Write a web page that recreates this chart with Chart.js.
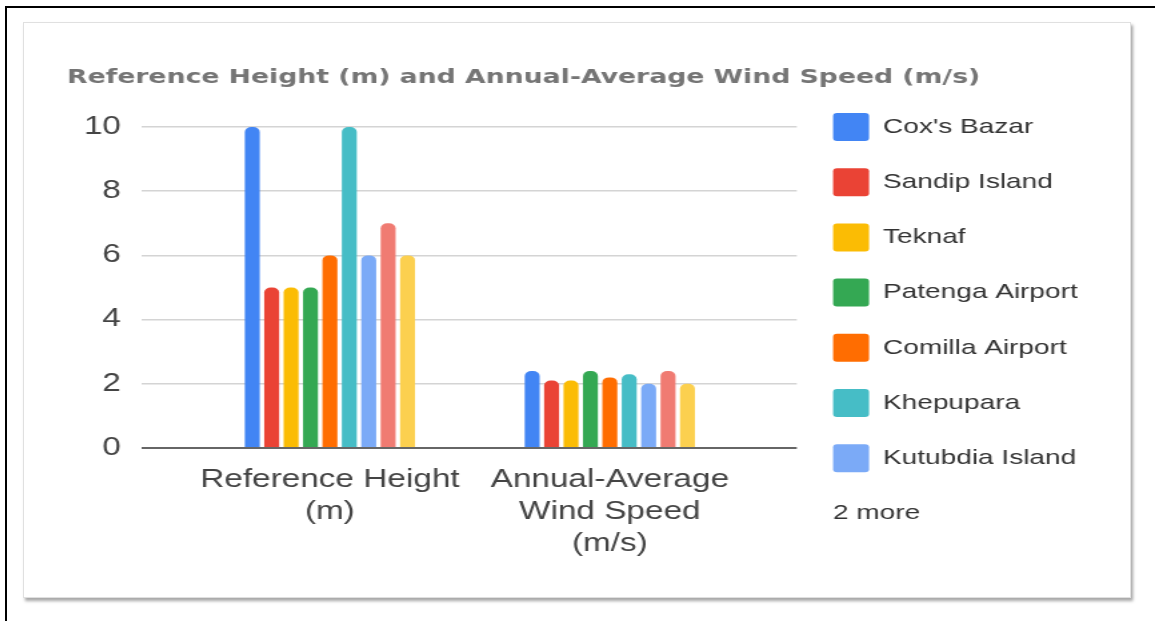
<!DOCTYPE html>
<html>
<head>
<meta charset="utf-8">
<title>Reference Height and Annual-Average Wind Speed</title>
<script src="https://cdn.jsdelivr.net/npm/chart.js"></script>
<style>
  html, body { margin: 0; padding: 0; background: #fff; }
  body { width: 1155px; height: 621px; position: relative; overflow: hidden; }
  /* black page frame, only top and left edges show */
  #frame { position: absolute; left: 5px; top: 6px; width: 1160px; height: 630px;
           border-top: 2px solid #000; border-left: 2px solid #000; }
  #card { position: absolute; left: 23px; top: 22px; width: 1108px; height: 576px;
          box-sizing: border-box; background: #fff; border: 1px solid #e0e0e0;
          box-shadow: 2px 3px 3px rgba(0, 0, 0, 0.35); }
  /* canvas drawn narrow and stretched sideways like the screenshot */
  #chart { position: absolute; left: 23px; top: 22px;
           width: 1108px !important; height: 576px !important; filter: blur(0.4px); }
</style>
</head>
<body>
<div id="frame"></div>
<div id="card"></div>
<canvas id="chart" width="831" height="576"></canvas>
<script>
// data
const categories = ['Reference Height (m)', 'Annual-Average Wind Speed (m/s)'];
const categoryLines = [['Reference Height', '(m)'], ['Annual-Average', 'Wind Speed', '(m/s)']];
const stations = ["Cox's Bazar", 'Sandip Island', 'Teknaf', 'Patenga Airport', 'Comilla Airport',
                  'Khepupara', 'Kutubdia Island', 'Station 8', 'Station 9'];
const referenceHeight = [10, 5, 5, 5, 6, 10, 6, 7, 6];
const windSpeed = [2.4, 2.1, 2.1, 2.4, 2.2, 2.3, 2.0, 2.4, 2.0];
const colors = ['#4285f4', '#ea4335', '#fbbc04', '#34a853', '#ff6d01',
                '#46bdc6', '#7baaf7', '#f07b72', '#fcd04f'];
const yTicks = [0, 2, 4, 6, 8, 10];
const shownInLegend = 7;

Chart.defaults.font.family = "'Liberation Sans', Arial, sans-serif";

// "2 more" line under the legend
const moreLabel = {
  id: 'moreLabel',
  afterDraw(chart) {
    const boxes = chart.legend.legendHitBoxes;
    const last = boxes[boxes.length - 1];
    const pad = chart.legend.options.labels.padding;
    const ctx = chart.ctx;
    ctx.save();
    ctx.font = "21px 'Liberation Sans', Arial, sans-serif";
    ctx.fillStyle = '#333';
    ctx.textBaseline = 'middle';
    ctx.fillText((stations.length - shownInLegend) + ' more', last.left,
                 last.top + last.height + pad + last.height / 2);
    ctx.restore();
  }
};

const datasets = stations.map((name, i) => ({
  label: name,
  data: [referenceHeight[i], windSpeed[i]].map((v, k) => ({ x: k, y: v })),
  backgroundColor: colors[i],
  borderWidth: 0,
  borderRadius: { topLeft: 5, topRight: 5 },
  borderSkipped: 'start',
  categoryPercentage: 0.624,
  barPercentage: 0.77
}));

new Chart(document.getElementById('chart'), {
  type: 'bar',
  data: { datasets: datasets },
  plugins: [moreLabel],
  options: {
    responsive: false,
    animation: false,
    devicePixelRatio: 1,
    layout: { padding: { left: 33, right: 30, top: 0, bottom: 30 } },
    scales: {
      x: {
        type: 'linear',
        min: -0.675,
        max: 1.668,
        offset: false,
        bounds: 'data',
        grid: { display: false },
        border: { display: false },
        afterBuildTicks: s => { s.ticks = categories.map((c, i) => ({ value: i })); },
        ticks: {
          callback: v => categoryLines[v],
          maxRotation: 0,
          autoSkip: false,
          padding: 8,
          color: '#444',
          font: { size: 25, lineHeight: 1.28 }
        }
      },
      y: {
        min: 0,
        max: 10,
        afterBuildTicks: s => { s.ticks = yTicks.map(v => ({ value: v })); },
        afterFit: s => { s.width = 55.5; },
        border: { display: false },
        grid: {
          drawTicks: false,
          color: c => c.tick.value === 0 ? '#666' : '#d4d4d4',
          lineWidth: c => c.tick.value === 0 ? 2 : 1.5
        },
        ticks: { padding: 15, color: '#444', font: { size: 25 } }
      }
    },
    plugins: {
      title: {
        display: true,
        text: 'Reference Height (m) and Annual-Average Wind Speed (m/s)',
        align: 'start',
        color: '#757575',
        font: { family: "'DejaVu Sans', sans-serif", size: 20, weight: 'bold', lineHeight: 1.2 },
        padding: { top: 43.5, bottom: 37.5 }
      },
      legend: {
        position: 'right',
        align: 'start',
        maxWidth: 300,
        title: { display: true, text: ' ', font: { size: 21 }, padding: { top: 38.6, bottom: 0 } },
        labels: {
          boxWidth: 27,
          boxHeight: 28,
          padding: 27.2,
          color: '#333',
          font: { size: 21 },
          useBorderRadius: true,
          borderRadius: 3,
          filter: item => item.datasetIndex < shownInLegend
        }
      },
      tooltip: { enabled: false }
    }
  }
});
</script>
</body>
</html>
